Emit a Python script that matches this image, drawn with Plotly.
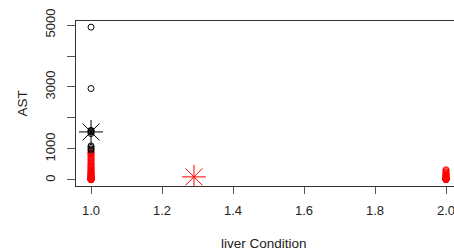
import plotly.graph_objects as go

# Cluster 1 (black) – liver condition 1
black_x = [1, 1, 1, 1, 1, 1, 1, 1, 1, 1]
black_ast = [4930, 2950, 1600, 1580, 1550, 1500, 1100, 1050, 1000, 960]

# Cluster 2 (red) – liver condition 1
red1_ast = [5, 10, 12, 15, 18, 20, 22, 25, 28, 30, 33, 35, 38, 40, 45, 50, 55, 60,
            65, 70, 80, 90, 100, 110, 120, 135, 150, 165, 180, 200, 220, 240, 260,
            285, 310, 340, 370, 400, 430, 460, 500, 540, 580, 620, 660, 700, 740,
            780, 820, 850, 880, 910]
red1_x = [1] * len(red1_ast)

# Cluster 2 (red) – liver condition 2
red2_ast = [8, 12, 15, 18, 20, 22, 25, 28, 30, 35, 40, 45, 50, 60, 70, 80, 90,
            100, 120, 140, 160, 180, 200, 230, 260, 300, 330]
red2_x = [2] * len(red2_ast)

# Cluster centres
center_x = [1.0, 1.29]
center_ast = [1550, 100]
center_colors = ["black", "red"]

x_ticks = [1.0, 1.2, 1.4, 1.6, 1.8, 2.0]
x_tick_text = ["1.0", "1.2", "1.4", "1.6", "1.8", "2.0"]
y_ticks = [0, 1000, 2000, 3000, 4000, 5000]
y_tick_text = ["0", "1000", "", "3000", "", "5000"]

fig = go.Figure()
fig.add_trace(go.Scatter(x=red1_x, y=red1_ast, mode="markers",
                         marker=dict(symbol="circle-open", size=6, color="red",
                                     line=dict(width=1))))
fig.add_trace(go.Scatter(x=red2_x, y=red2_ast, mode="markers",
                         marker=dict(symbol="circle-open", size=6, color="red",
                                     line=dict(width=1))))
fig.add_trace(go.Scatter(x=black_x, y=black_ast, mode="markers",
                         marker=dict(symbol="circle-open", size=6, color="black",
                                     line=dict(width=1))))
fig.add_trace(go.Scatter(x=center_x, y=center_ast, mode="markers",
                         marker=dict(symbol="asterisk-open", size=20,
                                     color=center_colors,
                                     line=dict(width=1, color=center_colors))))

tick_font = dict(family="Liberation Sans, Arial, sans-serif", size=13, color="#222")
title_font = dict(family="Liberation Sans, Arial, sans-serif", size=13.5, color="#222")

fig.update_layout(
    width=462, height=250,
    margin=dict(l=76, r=2, t=21, b=64),
    paper_bgcolor="white", plot_bgcolor="white",
    showlegend=False,
    font=tick_font,
    xaxis=dict(range=[0.9577, 2.0394], tickvals=x_ticks, ticktext=x_tick_text,
               showgrid=False, zeroline=False, showline=True, linecolor="#333",
               linewidth=1, mirror=True, ticks="outside", ticklen=7,
               tickcolor="#555", automargin=False, tickfont=tick_font,
               ticklabelstandoff=5),
    yaxis=dict(range=[-194, 5129], tickvals=y_ticks, ticktext=y_tick_text,
               showgrid=False, zeroline=False, showline=True, linecolor="#333",
               linewidth=1, mirror=True, ticks="outside", ticklen=8,
               tickcolor="#555", tickangle=-90, automargin=False,
               tickfont=tick_font, ticklabelstandoff=7),
    annotations=[
        dict(text="liver Condition", xref="paper", yref="paper", x=0.5,
             y=0, yanchor="middle", xanchor="center",
             xshift=-4, yshift=-57, showarrow=False, font=title_font),
        dict(text="AST", xref="paper", yref="paper", x=0, y=0.5,
             xanchor="center", yanchor="middle", xshift=-(76 - 22),
             textangle=-90, showarrow=False, font=title_font),
    ],
)

fig.write_html(
    "out.html",
    config={"displayModeBar": False},
    post_script="document.body.style.margin='0';"
                "document.body.style.overflow='hidden';"
                "document.documentElement.style.overflow='hidden';",
)
